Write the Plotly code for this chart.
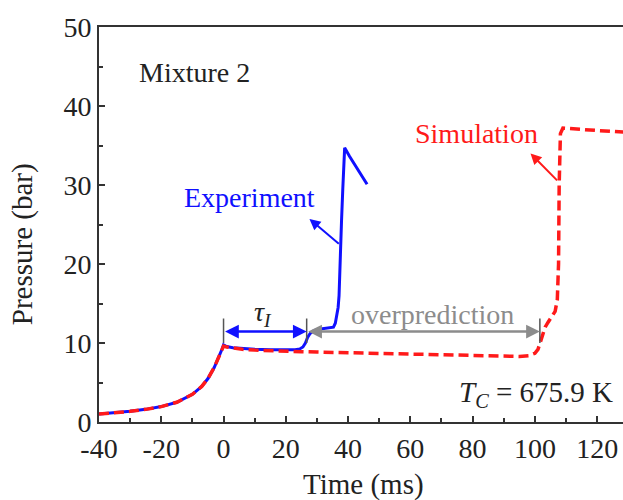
import plotly.graph_objects as go

# ---- data ----
exp_time = [-40, -35, -30, -25, -20, -15, -10, -7, -5, -3, -1.5, -0.5, 0, 1, 3, 6, 10, 15, 20,
            23, 24.5, 25.5, 26.3, 27, 27.8, 28.8, 30, 32, 34, 35.3, 35.9, 36.4, 36.8, 37.1,
            37.5, 37.9, 38.3, 38.6, 38.9, 40.5, 42.5, 44.5, 46.1]
exp_pressure = [1.0, 1.15, 1.35, 1.6, 1.95, 2.5, 3.5, 4.5, 5.5, 6.9, 8.2, 9.2, 9.75, 9.55, 9.4, 9.3, 9.2, 9.15, 9.1,
                9.15, 9.25, 9.5, 10.0, 10.7, 11.2, 11.5, 11.7, 11.8, 11.85, 12.0, 12.5, 13.5, 14.5, 16.0,
                22.0, 25.5, 29.5, 32.5, 34.7, 33.6, 32.3, 31.1, 30.1]

sim_time = [-40, -35, -30, -25, -20, -15, -10, -7, -5, -3, -1.5, -0.5, 0, 1, 3, 6, 10, 15, 20, 25, 30,
            40, 50, 60, 70, 80, 90, 95, 98, 100, 101, 101.8, 102.5, 103.3, 104.2, 105.5, 106.5,
            107.2, 107.6, 107.8, 108.2, 109, 112, 116, 120, 125, 128.5]
sim_pressure = [1.0, 1.15, 1.35, 1.6, 1.95, 2.5, 3.5, 4.5, 5.5, 6.9, 8.2, 9.2, 9.6, 9.5, 9.35, 9.2, 9.1, 9.0, 8.95, 8.9, 8.85,
                8.75, 8.65, 8.55, 8.45, 8.35, 8.3, 8.3, 8.4, 8.7, 9.2, 10.2, 11.2, 12.0, 12.6, 13.3, 14.0,
                15.5, 20.0, 30.0, 36.5, 37.2, 37.1, 37.0, 36.9, 36.8, 36.7]

x_tick_vals = [-40, -20, 0, 20, 40, 60, 80, 100, 120]
x_tick_text = ["-40", "-20", "0", "20", "40", "60", "80", "100", "120"]
y_tick_vals = [0, 10, 20, 30, 40, 50]
y_tick_text = ["0", "10", "20", "30", "40", "50"]

# interval markers
tau_start, tau_end, sim_ign = 0, 26.7, 101.6
interval_y = 11.45

FONT = "'Liberation Serif', 'Times New Roman', Times, serif"
BLUE = "#1010ff"
RED = "#ff1a1a"
GRAY = "#8c8c8c"
AX = "#333333"
TXT = "#222222"

fig = go.Figure()
fig.add_trace(go.Scatter(x=exp_time, y=exp_pressure, mode="lines",
                         line=dict(color=BLUE, width=3), showlegend=False))
fig.add_trace(go.Scatter(x=sim_time, y=sim_pressure, mode="lines",
                         line=dict(color=RED, width=3.5, dash="10px,5px"), showlegend=False))

# vertical bars for intervals
for xv in [tau_start, tau_end, sim_ign]:
    fig.add_shape(type="line", x0=xv, x1=xv, y0=10.0, y1=13.1, xref="x", yref="y",
                  line=dict(color="#555555", width=1.5))

anns = []
# tau arrow (double-headed)
anns.append(dict(x=tau_end, y=interval_y, ax=tau_start, ay=interval_y, xref="x", yref="y",
                 axref="x", ayref="y", text="", showarrow=True, arrowhead=2, startarrowhead=2,
                 arrowside="end+start", arrowsize=1.1, arrowwidth=2.5, arrowcolor=BLUE,
                 standoff=0, startstandoff=0))
# overprediction arrow
anns.append(dict(x=sim_ign, y=interval_y, ax=tau_end, ay=interval_y, xref="x", yref="y",
                 axref="x", ayref="y", text="", showarrow=True, arrowhead=2, startarrowhead=2,
                 arrowside="end+start", arrowsize=1.1, arrowwidth=2.5, arrowcolor=GRAY,
                 standoff=0, startstandoff=0))
# Experiment pointer
anns.append(dict(x=27.6, y=25.7, ax=37.5, ay=22.4, xref="x", yref="y", axref="x", ayref="y",
                 text="", showarrow=True, arrowhead=2, arrowsize=1.1, arrowwidth=2,
                 arrowcolor=BLUE, standoff=0))
# Simulation pointer
anns.append(dict(x=98.6, y=34.0, ax=107.6, ay=30.4, xref="x", yref="y", axref="x", ayref="y",
                 text="", showarrow=True, arrowhead=2, arrowsize=1.1, arrowwidth=2,
                 arrowcolor=RED, standoff=0))

# texts
anns.append(dict(x=8.3, y=28.4, xref="x", yref="y", text="Experiment", showarrow=False,
                 font=dict(family=FONT, size=28, color=BLUE)))
anns.append(dict(x=81.3, y=36.5, xref="x", yref="y", text="Simulation", showarrow=False,
                 font=dict(family=FONT, size=28, color=RED)))
anns.append(dict(x=67, y=13.6, xref="x", yref="y", text="overprediction", showarrow=False,
                 font=dict(family=FONT, size=28, color=GRAY)))
anns.append(dict(x=12.8, y=13.7, xref="x", yref="y", text="<i>τ</i><sub><i>I</i></sub>",
                 showarrow=False, font=dict(family=FONT, size=28, color=TXT)))
anns.append(dict(x=-27.7, y=44.3, xref="x", yref="y", xanchor="left", text="Mixture 2",
                 showarrow=False, font=dict(family=FONT, size=28, color=TXT)))
anns.append(dict(x=125.8, y=3.5, xref="x", yref="y", xanchor="right",
                 text="<i>T</i><sub><i>C</i></sub> = 675.9 K",
                 showarrow=False, font=dict(family=FONT, size=29, color=TXT)))
# axis titles
anns.append(dict(x=-0.147, y=0.45, xref="paper", yref="paper", xanchor="center", yanchor="middle",
                 text="Pressure (bar)", textangle=-90, showarrow=False,
                 font=dict(family=FONT, size=29, color=TXT)))
anns.append(dict(x=0.504, y=-0.159, xref="paper", yref="paper", xanchor="center", yanchor="middle",
                 text="Time (ms)", showarrow=False, font=dict(family=FONT, size=29, color=TXT)))

fig.update_layout(
    width=623, height=500,
    margin=dict(l=99, r=0, t=27, b=78),
    paper_bgcolor="white", plot_bgcolor="white",
    font=dict(family=FONT, size=28, color=TXT),
    annotations=anns,
)
fig.update_xaxes(range=[-40, 128.3], showgrid=False, zeroline=False,
                 showline=True, linecolor=AX, linewidth=2, mirror=True,
                 ticks="inside", ticklen=6, tickwidth=2, tickcolor=AX,
                 tickvals=x_tick_vals, ticktext=x_tick_text,
                 tickfont=dict(family=FONT, size=28, color=TXT),
                 minor=dict(ticks="inside", ticklen=4, tickwidth=2, tickcolor=AX, dtick=10, tick0=0))
fig.update_yaxes(range=[0, 50], showgrid=False, zeroline=False,
                 showline=True, linecolor=AX, linewidth=2,
                 ticks="inside", ticklen=6, tickwidth=2, tickcolor=AX,
                 tickvals=y_tick_vals, ticktext=y_tick_text,
                 tickfont=dict(family=FONT, size=28, color=TXT),
                 minor=dict(ticks="inside", ticklen=4, tickwidth=2, tickcolor=AX, dtick=5, tick0=0))

fig.write_html("out.html")
